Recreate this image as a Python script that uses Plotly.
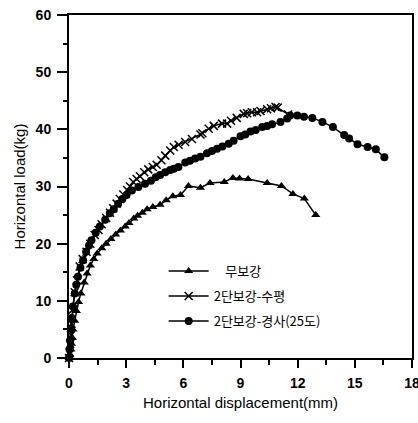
import plotly.graph_objects as go

# 무보강 (triangles)
x_none = [0, 0.05, 0.1, 0.13, 0.18, 0.21, 0.3, 0.39, 0.5, 0.62, 0.8, 0.95, 1.12, 1.3, 1.48, 1.72,
          1.95, 2.2, 2.45, 2.7, 2.95, 3.15, 3.4, 3.6, 3.85, 4.1, 4.4, 4.78, 5.1, 5.45, 5.85, 6.27,
          6.9, 7.4, 8.15, 8.6, 8.95, 9.4, 10.4, 11.15, 11.75, 12.35, 12.95]
y_none = [0, 0.5, 1.5, 2.5, 3.5, 5, 6.5, 8.2, 9.8, 11.3, 13.2, 14.8, 16.2, 17.3, 18.3, 19.2,
          20.0, 20.8, 21.6, 22.3, 23.0, 23.6, 24.4, 24.9, 25.4, 26.0, 26.4, 26.8, 27.6, 28.3, 28.5, 30.1,
          29.8, 30.6, 30.8, 31.5, 31.4, 31.3, 30.6, 30.1, 28.7, 27.9, 25.0]

# 2단보강-수평 (crosses)
x_horiz = [0, 0.03, 0.06, 0.1, 0.13, 0.2, 0.3, 0.42, 0.56, 0.72, 0.92, 1.12, 1.35, 1.55, 1.71, 1.95,
           2.15, 2.32, 2.5, 2.67, 2.85, 3.05, 3.2, 3.37, 3.55, 3.72, 3.95, 4.16, 4.4, 4.6, 4.85, 5.05,
           5.31, 5.5, 5.75, 6.1, 6.45, 6.9, 7.0, 7.33, 7.6, 8.03, 8.3, 8.5, 8.8, 9.17, 9.35, 9.6,
           9.87, 10.05, 10.4, 10.6, 10.84, 10.95, 11.5]
y_horiz = [0, 1, 2.5, 4, 6, 8.5, 11.5, 13.6, 16.0, 17.3, 18.6, 20.0, 21.5, 22.4, 23.4, 24.5,
           25.4, 26.2, 27.0, 27.8, 28.6, 29.4, 30.0, 30.8, 31.3, 31.8, 32.5, 33.0, 33.4, 33.8, 34.6, 35.4,
           36.3, 36.9, 37.3, 37.8, 38.3, 39.1, 39.3, 40.1, 40.6, 41.0, 41.0, 41.5, 42.0, 42.7, 42.8, 43.0,
           43.0, 43.2, 43.5, 43.7, 43.9, 43.8, 42.6]

# 2단보강-경사(25도) (circles)
x_incl = [0, 0.03, 0.06, 0.1, 0.14, 0.2, 0.3, 0.38, 0.47, 0.6, 0.74, 0.9, 1.05, 1.18, 1.4, 1.62,
          1.9, 2.14, 2.35, 2.58, 2.8, 3.02, 3.3, 3.64, 3.99, 4.3, 4.55, 4.78, 5.05, 5.31, 5.5, 5.74,
          6.1, 6.35, 6.62, 6.9, 7.24, 7.5, 7.77, 8.05, 8.38, 8.64, 9.0, 9.25, 9.52, 9.8, 10.14, 10.4,
          10.66, 11.1, 11.45, 11.6, 11.98, 12.33, 12.77, 13.3, 13.85, 14.44, 14.7, 15.14, 15.67, 16.1, 16.55]
y_incl = [0, 1.5, 3, 5, 7, 9, 11.3, 12.8, 14.2, 15.8, 17.1, 18.6, 19.7, 20.6, 21.9, 23.0,
          24.2, 25.3, 26.0, 27.0, 27.8, 28.5, 29.3, 29.9, 30.5, 31.0, 31.6, 32.0, 32.5, 32.9, 33.1, 33.4,
          34.2, 34.5, 34.9, 35.2, 35.8, 36.2, 36.6, 37.0, 37.5, 38.0, 38.8, 39.1, 39.6, 39.9, 40.4, 40.6,
          40.9, 41.3, 41.9, 42.4, 42.4, 42.2, 42.0, 41.3, 40.4, 39.0, 38.4, 37.4, 36.9, 36.5, 35.1]

x_ticks = [0, 3, 6, 9, 12, 15, 18]
y_ticks = [0, 10, 20, 30, 40, 50, 60]

fig = go.Figure()
fig.add_trace(go.Scatter(x=x_none, y=y_none, mode="lines+markers", name="    무보강",
                         legendgroup="a",
                         line=dict(color="black", width=1.5),
                         marker=dict(symbol="triangle-up", size=8, color="black"),
                         cliponaxis=False))
fig.add_trace(go.Scatter(x=x_horiz, y=y_horiz, mode="lines+markers", name="2단보강-수평",
                         legendgroup="b",
                         line=dict(color="black", width=1.5),
                         marker=dict(symbol="x-thin", size=8, color="black",
                                     line=dict(color="black", width=1.5)),
                         cliponaxis=False))
fig.add_trace(go.Scatter(x=x_incl, y=y_incl, mode="lines+markers", name="2단보강-경사(25도)",
                         legendgroup="c",
                         line=dict(color="black", width=1.5),
                         marker=dict(symbol="circle", size=8, color="black"),
                         cliponaxis=False))

axis_common = dict(showgrid=False, zeroline=False, showline=True, linecolor="black", linewidth=2,
                   mirror=True, ticks="outside", tickwidth=2, tickcolor="black",
                   ticklabeloverflow="allow", automargin=False,
                   tickfont=dict(family="Liberation Sans, Arial", size=14, color="black", weight="bold"))

fig.update_xaxes(range=[0, 18], tickvals=x_ticks, ticktext=[str(v) for v in x_ticks],
                 ticklen=8, ticklabelstandoff=3,
                 minor=dict(ticks="outside", ticklen=5, tickwidth=2, tickcolor="black", dtick=1.5, tick0=0),
                 title=dict(text="Horizontal displacement(mm)", standoff=8,
                            font=dict(family="Liberation Sans, Arial", size=15, color="black")),
                 **axis_common)
fig.update_yaxes(range=[0, 60], tickvals=y_ticks, ticktext=[str(v) for v in y_ticks],
                 ticklen=10, ticklabelstandoff=3,
                 minor=dict(ticks="outside", ticklen=4, tickwidth=1.5, tickcolor="black", dtick=5, tick0=0),
                 title=dict(text="Horizontal load(kg)", standoff=6,
                            font=dict(family="Liberation Sans, Arial", size=15, color="black")),
                 **axis_common)

fig.update_layout(
    width=418, height=423,
    margin=dict(l=69, r=6, t=15, b=65, autoexpand=False),
    plot_bgcolor="white", paper_bgcolor="white",
    showlegend=True,
    legend=dict(x=0.276, y=0.297, xanchor="left", yanchor="top",
                bgcolor="rgba(0,0,0,0)", tracegroupgap=5, itemwidth=40,
                font=dict(family="Noto Sans CJK KR", size=13, color="black")),
)

fig.write_html("out.html", config={"displayModeBar": False},
               post_script="document.body.style.margin='0';document.body.style.overflow='hidden';")
